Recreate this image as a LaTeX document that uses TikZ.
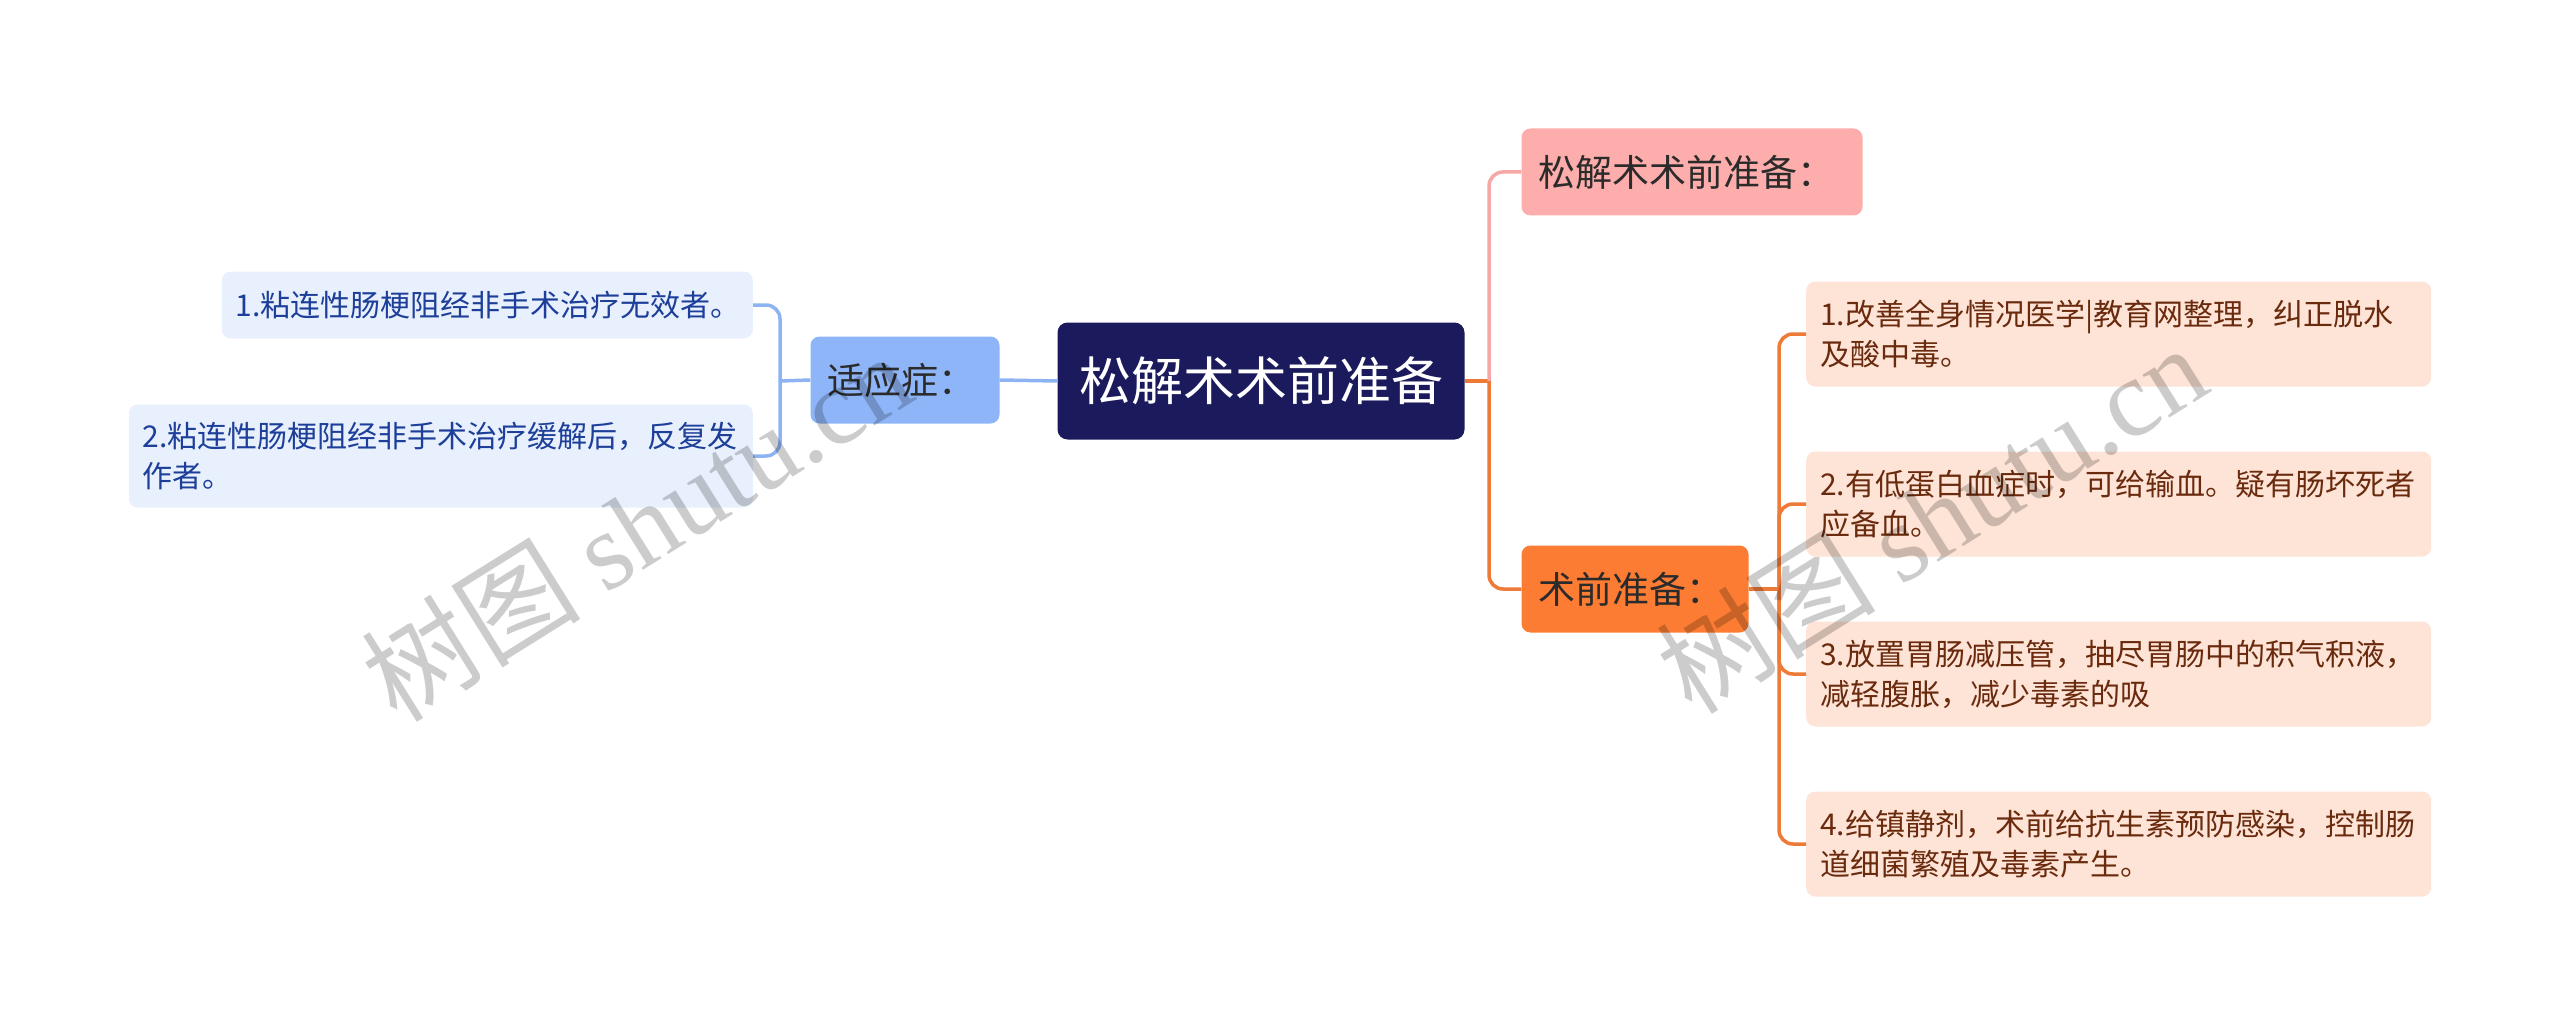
\documentclass[tikz,border=0pt]{standalone}
\usepackage{fontspec}
\setmainfont{Noto Sans CJK SC}
\newfontfamily\wmlatin{Liberation Serif}
\usetikzlibrary{positioning}

\definecolor{rootfill}{HTML}{1B1A5C}
\definecolor{bluebox}{HTML}{8EB5F7}
\definecolor{blueleaf}{HTML}{E8F0FD}
\definecolor{bluetext}{HTML}{1D3F99}
\definecolor{blueline}{HTML}{8DB3F2}
\definecolor{pinkbox}{HTML}{FDADAB}
\definecolor{pinkline}{HTML}{F6A8A6}
\definecolor{orangebox}{HTML}{FB7C32}
\definecolor{orangeline}{HTML}{EE7A38}
\definecolor{peachleaf}{HTML}{FEE4D6}
\definecolor{browntext}{HTML}{6A2A0E}
\definecolor{darktext}{HTML}{2B2B2B}

\tikzset{
  rootbox/.style={fill=rootfill, text=white, rounded corners=10pt,
    minimum width=407pt, minimum height=117pt, inner sep=0pt,
    font=\fontsize{52}{62}\selectfont},
  mainbox/.style={rounded corners=9pt, text=darktext, minimum height=87pt,
    inner xsep=17pt, inner ysep=0pt, align=left,
    font=\fontsize{37}{44}\selectfont},
  leafbox/.style={rounded corners=9pt, inner xsep=14pt, inner ysep=0pt,
    align=left, font=\fontsize{30}{40}\selectfont},
  bline/.style={draw=blueline, line width=3.5pt, rounded corners=14pt},
  pline/.style={draw=pinkline, line width=3.5pt, rounded corners=14pt},
  oline/.style={draw=orangeline, line width=3.5pt, rounded corners=14pt},
  wmark/.style={text=black, opacity=0.2, inner sep=0pt,
    font=\fontsize{110}{120}\selectfont}
}

\begin{document}
\begin{tikzpicture}[x=1pt, y=-1pt]
\useasboundingbox (0,0) rectangle (2560,1027);
% Root
\node[rootbox] (root) at (1261,381) {松解术术前准备};
% Left branch
\node[mainbox, fill=bluebox, text width=155pt] (syz) at (905,380) {适应症：};
\node[leafbox, fill=blueleaf, text=bluetext, text width=503pt,
  minimum height=67pt, anchor=east] (l1) at (753,305)
  {1.粘连性肠梗阻经非手术治疗无效者。};
\node[leafbox, fill=blueleaf, text=bluetext, text width=596pt,
  minimum height=103pt, anchor=east] (l2) at (753,456)
  {2.粘连性肠梗阻经非手术治疗缓解后，反复发\\作者。};
\coordinate (lbar) at (780,381);
% Right branch
\node[mainbox, fill=pinkbox, text width=307pt] (sqzb) at (1692,172) {松解术术前准备：};
\node[mainbox, fill=orangebox, text width=193pt] (sq) at (1635,589) {术前准备：};
\coordinate (rbar) at (1489,381);
\coordinate (obar) at (1779,589);
\foreach \i/\y/\txt in {
  1/334/{1.改善全身情况医学|教育网整理，纠正脱水\\及酸中毒。},
  2/504/{2.有低蛋白血症时，可给输血。疑有肠坏死者\\应备血。},
  3/674/{3.放置胃肠减压管，抽尽胃肠中的积气积液，\\减轻腹胀，减少毒素的吸},
  4/844/{4.给镇静剂，术前给抗生素预防感染，控制肠\\道细菌繁殖及毒素产生。}} {
    \node[leafbox, fill=peachleaf, text=browntext, text width=597pt,
      minimum height=105pt, anchor=west] (r\i) at (1806,\y) {\txt};
}
% Connections
\draw[bline] (root.west) -- (syz.east);
\draw[bline] (syz.west) -- (lbar);
\foreach \i in {1,2} {
    \draw[bline] (lbar) |- (l\i.east);
}
\draw[oline] (root.east) -- (rbar);
\draw[pline] (rbar) |- (sqzb.west);
\draw[oline] (rbar) |- (sq.west);
\draw[oline] (sq.east) -- (obar);
\foreach \i in {1,...,4} {
    \draw[oline] (obar) |- (r\i.west);
}
% Watermarks
\node[wmark, rotate=32] (wm1) at (636,526) {树图 {\wmlatin shutu.cn}};
\node[wmark, rotate=32] (wm2) at (1931,518) {树图 {\wmlatin shutu.cn}};
\end{tikzpicture}
\end{document}
